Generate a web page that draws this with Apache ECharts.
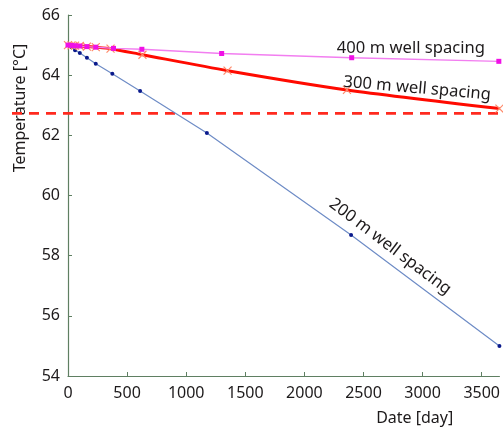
<!DOCTYPE html>
<html>
<head>
<meta charset="utf-8">
<script src="https://cdn.jsdelivr.net/npm/echarts@6/dist/echarts.min.js"></script>
<style>
  html, body { margin: 0; padding: 0; background: #fff; }
  #chart { width: 503px; height: 434px; }
</style>
</head>
<body>
<div id="chart"></div>
<script>
// Simulated production temperature over ten years for three well spacings
const days200 = [0, 30, 60, 100, 160, 235, 375, 610, 1175, 2395, 3650];
const temp200 = [65.0, 64.93, 64.83, 64.74, 64.58, 64.38, 64.05, 63.47, 62.08, 58.69, 55.0];

const days300 = [0, 30, 60, 100, 160, 235, 360, 630, 1350, 2360, 3650];
const temp300 = [65.0, 64.99, 64.98, 64.97, 64.95, 64.93, 64.88, 64.68, 64.15, 63.51, 62.89];

const days400 = [0, 30, 60, 100, 160, 235, 385, 625, 1300, 2400, 3645];
const temp400 = [65.0, 64.99, 64.98, 64.97, 64.95, 64.93, 64.89, 64.86, 64.72, 64.58, 64.46];

// Minimum acceptable production temperature
const thresholdTemp = 62.73;

const xTicks = [0, 500, 1000, 1500, 2000, 2500, 3000, 3500];
const yTicks = [54, 56, 58, 60, 62, 64, 66];

const seriesNames = ['200 m well spacing', '300 m well spacing', '400 m well spacing'];

const pairs = (xs, ys) => xs.map((x, i) => [x, ys[i]]);

const FONT = 'Noto Sans';
const TEXT = '#1d1a1b';
const AXIS = '#5f7f62';

// Curve captions, anchored in data coordinates
const captions = [
  { text: seriesNames[0], at: [2726, 58.30], rotate: -37 },
  { text: seriesNames[1], at: [2954, 63.56], rotate: -5 },
  { text: seriesNames[2], at: [2901, 64.89], rotate: 0 }
];

const chart = echarts.init(document.getElementById('chart'), null, { renderer: 'canvas' });

chart.setOption({
  animation: false,
  backgroundColor: '#ffffff',
  textStyle: { fontFamily: FONT },
  grid: [
    { left: 68, right: 1, top: 15, bottom: 58, containLabel: false },
    { left: 12, right: 0, top: 15, bottom: 58, containLabel: false }
  ],
  xAxis: [
    {
      type: 'value', gridIndex: 0, min: 0, max: 3650, interval: 500,
      name: 'Date [day]', nameLocation: 'middle', nameGap: 34,
      nameTextStyle: { color: TEXT, fontSize: 16, fontFamily: FONT, padding: [0, 0, 0, 262] },
      axisLine: { show: true, lineStyle: { color: AXIS, width: 1.2 } },
      axisTick: { show: true, inside: true, length: 4, lineStyle: { color: AXIS } },
      axisLabel: {
        color: TEXT, fontSize: 16, fontFamily: FONT, margin: 9,
        showMaxLabel: false,
        formatter: v => (xTicks.includes(v) ? String(v) : '')
      },
      splitLine: { show: false }
    },
    { type: 'value', gridIndex: 1, min: 0, max: 1, show: false }
  ],
  yAxis: [
    {
      type: 'value', gridIndex: 0, min: 54, max: 66, interval: 2,
      name: 'Temperature [°C]', nameLocation: 'middle', nameGap: 40, nameRotate: 90,
      nameTextStyle: { color: TEXT, fontSize: 16, fontFamily: FONT, padding: [0, 0, 0, 175] },
      axisLine: { show: true, lineStyle: { color: AXIS, width: 1.2 } },
      axisTick: { show: true, inside: true, length: 4, lineStyle: { color: AXIS } },
      axisLabel: {
        color: TEXT, fontSize: 16, fontFamily: FONT, margin: 8,
        formatter: v => (yTicks.includes(v) ? String(v) : '')
      },
      splitLine: { show: false }
    },
    { type: 'value', gridIndex: 1, min: 54, max: 66, show: false }
  ],
  series: [
    {
      name: 'threshold', type: 'line', xAxisIndex: 1, yAxisIndex: 1,
      data: [[0, thresholdTemp], [1, thresholdTemp]],
      symbol: 'none', silent: true, z: 1,
      lineStyle: { color: '#ff2a1f', width: 2.6, type: [10, 7] }
    },
    {
      name: seriesNames[0], type: 'line', data: pairs(days200, temp200),
      symbol: 'circle', symbolSize: 4, z: 3,
      itemStyle: { color: '#0a1a8c' },
      lineStyle: { color: '#6e8cc6', width: 1.2 }
    },
    {
      name: seriesNames[1], type: 'line', data: pairs(days300, temp300),
      smooth: 0.25,
      symbol: 'path://M0,0 L10,10 M10,0 L0,10', symbolSize: 8, z: 4,
      itemStyle: { color: 'none', borderColor: '#ff8a6a', borderWidth: 1.2 },
      lineStyle: { color: '#ff0a00', width: 3 }
    },
    {
      name: seriesNames[2], type: 'line', data: pairs(days400, temp400),
      symbol: 'rect', symbolSize: 5, z: 5,
      itemStyle: { color: '#f010e6' },
      lineStyle: { color: '#f27ef0', width: 1.4 }
    },
    {
      name: 'captions', type: 'scatter', z: 6, silent: true,
      data: captions.map(c => ({
        value: c.at,
        label: {
          show: true, formatter: c.text, rotate: c.rotate, position: 'inside',
          color: TEXT, fontSize: 16.6, fontFamily: FONT,
          textBorderWidth: 0, textShadowBlur: 0, opacity: 1
        }
      })),
      symbolSize: 1,
      itemStyle: { color: '#ffffff', opacity: 0 }
    }
  ]
});
</script>
</body>
</html>
